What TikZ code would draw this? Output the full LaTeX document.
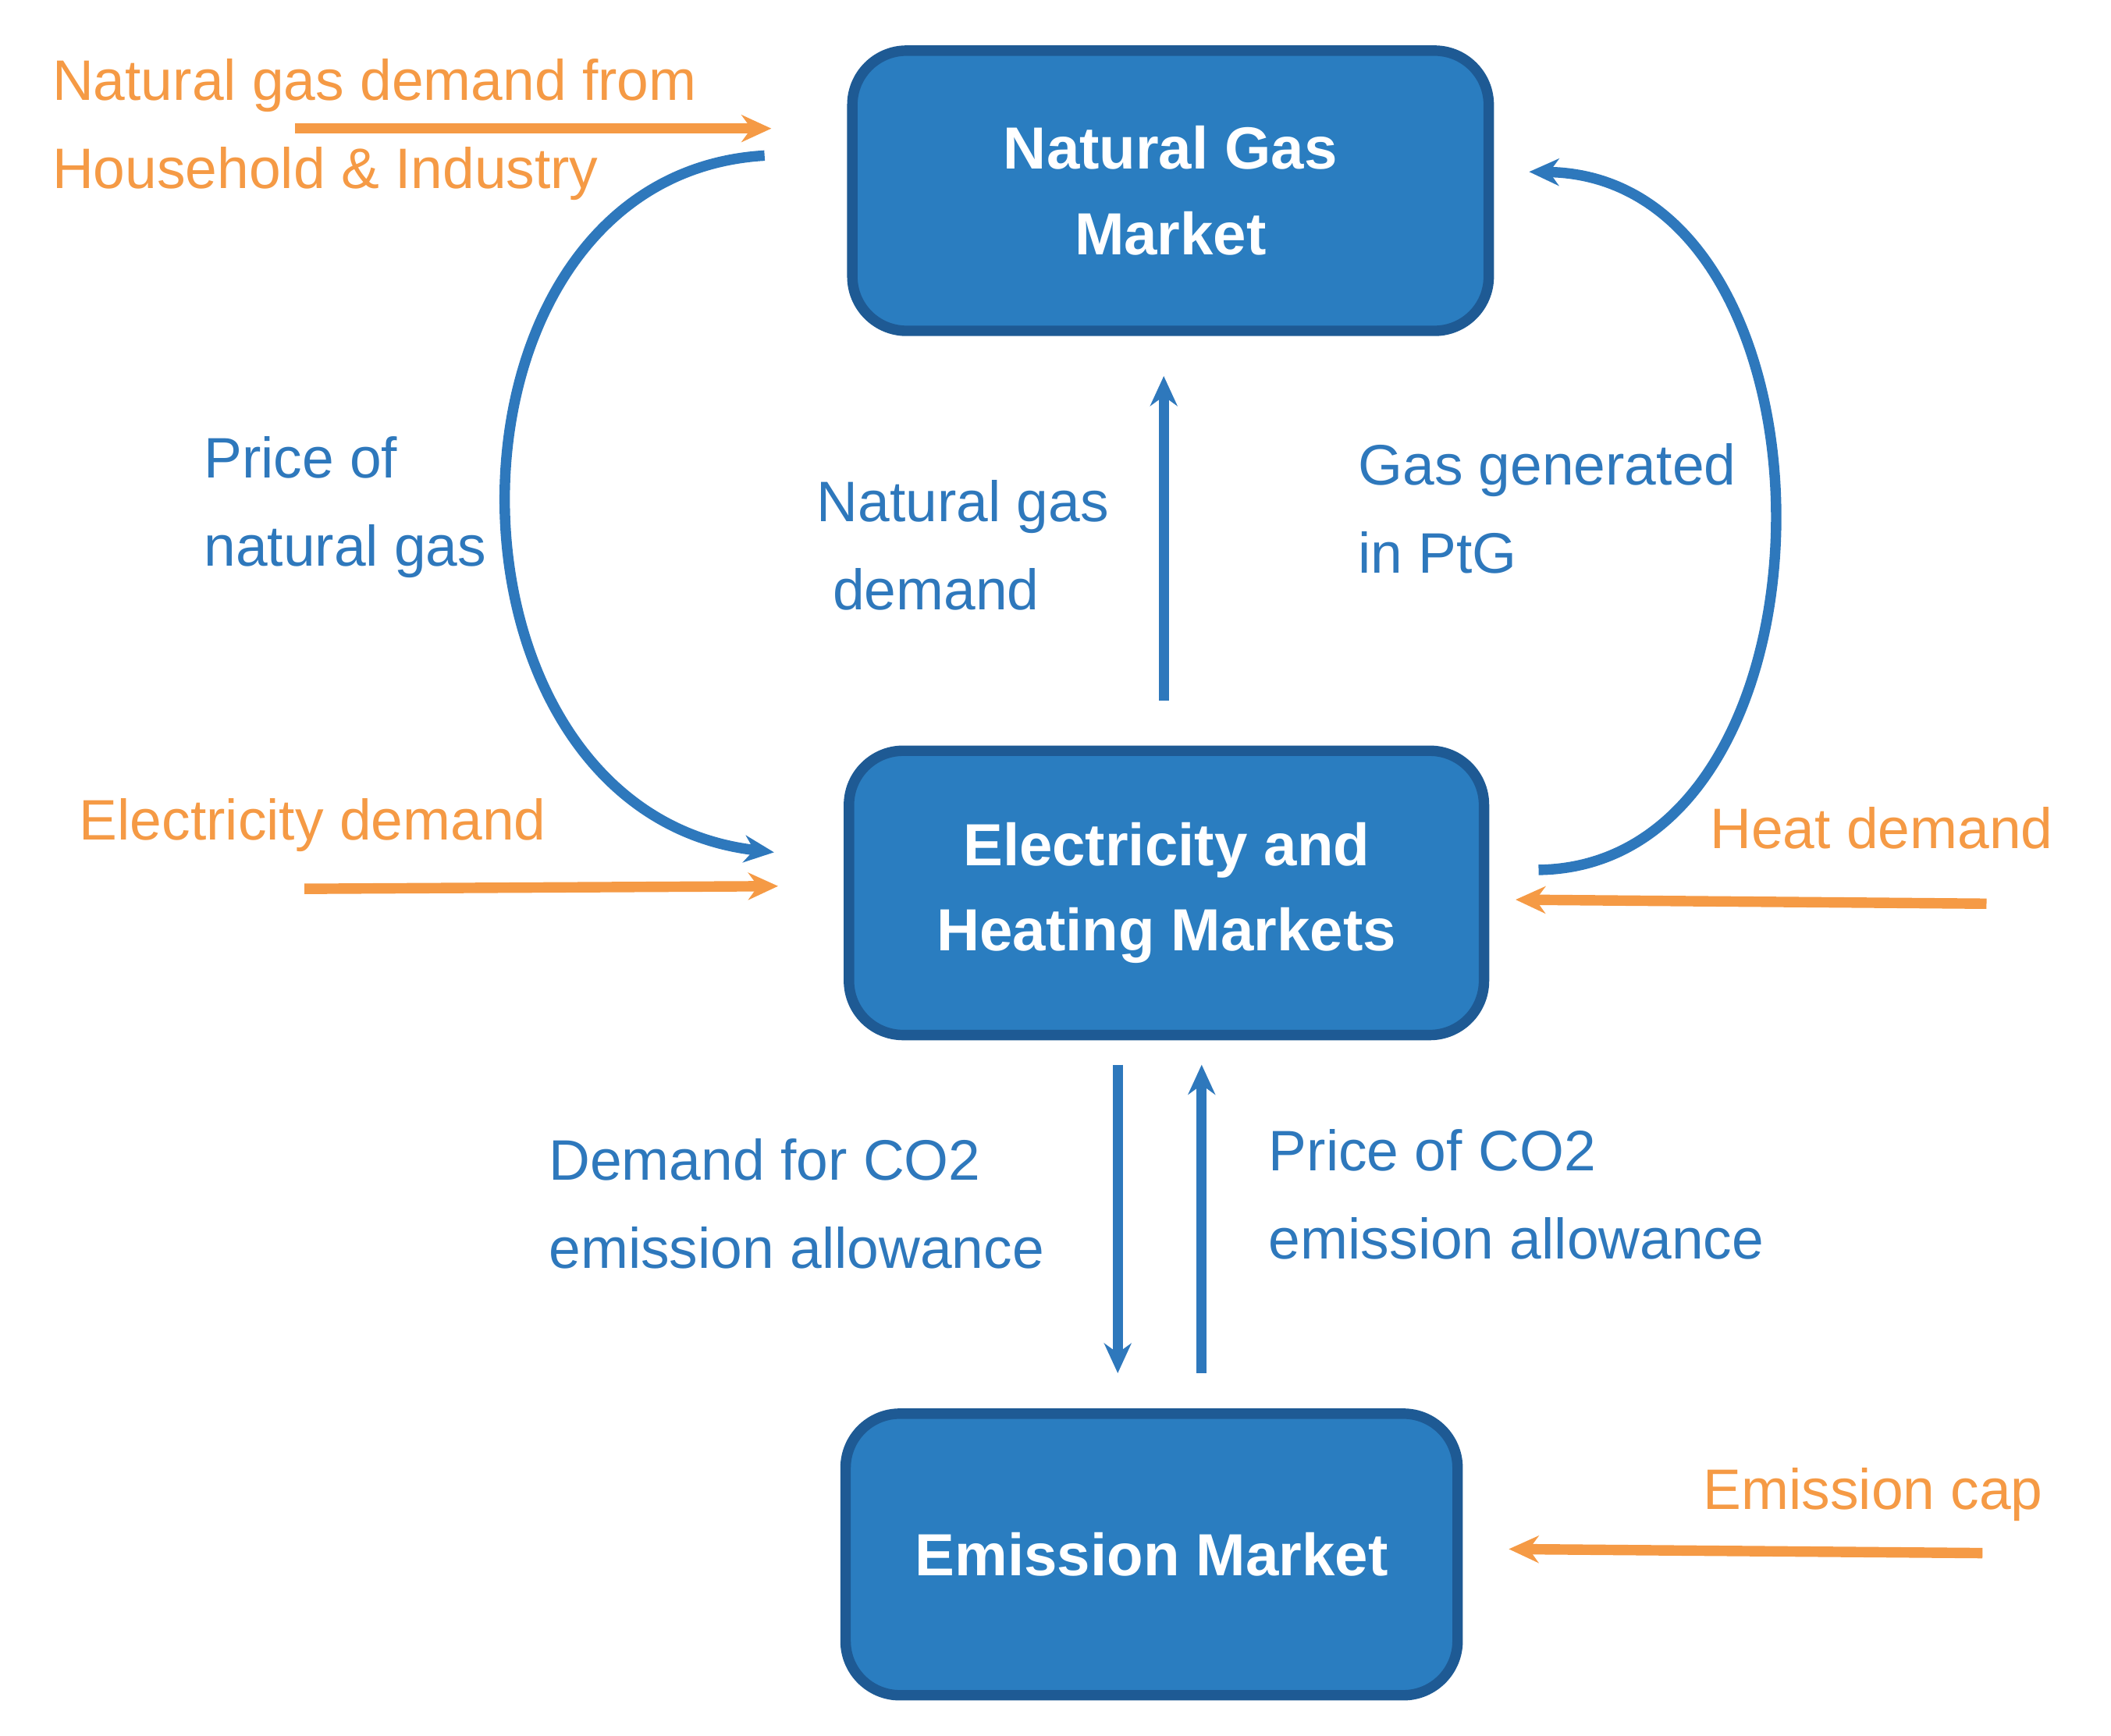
\documentclass[tikz,border=0pt]{standalone}
\usepackage{fontspec}
\setmainfont{Liberation Sans}
\usetikzlibrary{arrows.meta}
\definecolor{boxfill}{HTML}{2A7DC0}
\definecolor{boxline}{HTML}{1E5A94}
\definecolor{lblue}{HTML}{2E78BC}
\definecolor{lorange}{HTML}{F59A45}
\tikzset{
  market/.style={draw=boxline, line width=2.2pt, fill=boxfill, rounded corners=0.4cm, text=white, font=\fontsize{12.5}{18}\selectfont\bfseries, align=center, inner sep=0pt},
  lbl/.style={anchor=west, align=left, inner sep=0pt, font=\fontsize{12}{18.5}\selectfont},
  blbl/.style={lbl, text=lblue},
  olbl/.style={lbl, text=lorange},
  barrow/.style={draw=lblue, line width=2.2pt, -{Stealth[length=0.22cm,width=0.2cm]}},
  oarrow/.style={draw=lorange, line width=2.2pt, -{Stealth[length=0.22cm,width=0.2cm]}}
}
\begin{document}
\begin{tikzpicture}[x=0.01cm,y=-0.01cm]
\useasboundingbox (0,0) rectangle (1560,1283);
\node[market, minimum width=4.7cm, minimum height=2.07cm] (ng) at (865,141) {Natural Gas\\Market};
\node[market, minimum width=4.69cm, minimum height=2.1cm] (el) at (862,660) {Electricity and\\Heating Markets};
\node[market, minimum width=4.52cm, minimum height=2.08cm] (em) at (851,1149) {Emission Market};

\coordinate (a1) at (218,95); \coordinate (a2) at (570,95);
\coordinate (b1) at (225,657); \coordinate (b2) at (575,655);
\coordinate (c1) at (1468,668); \coordinate (c2) at (1120,665);
\coordinate (d1) at (1465,1148); \coordinate (d2) at (1115,1145);
\draw[oarrow] (a1) -- (a2);
\draw[oarrow] (b1) -- (b2);
\draw[oarrow] (c1) -- (c2);
\draw[oarrow] (d1) -- (d2);

\coordinate (l1) at (565,115); \coordinate (l2) at (572,630);
\coordinate (r1) at (1137,643); \coordinate (r2) at (1130,127);
\draw[barrow] (l1) .. controls (310,130) and (310,600) .. (l2);
\draw[barrow] (r1) .. controls (1370,640) and (1370,130) .. (r2);

\coordinate (v1) at (860,518); \coordinate (v2) at (860,278);
\draw[barrow] (v1) -- (v2);
\coordinate (w1) at (826,787); \coordinate (w2) at (826,1015);
\draw[barrow] (w1) -- (w2);
\coordinate (u1) at (888,1015); \coordinate (u2) at (888,787);
\draw[barrow] (u1) -- (u2);

\node[olbl] (t1) at (38,96) {Natural gas demand from\\Household \& Industry};
\node[blbl] (t2) at (150,375) {Price of\\natural gas};
\node[blbl] (t3) at (603,403) {Natural gas\\\ demand};
\node[blbl] (t4) at (1003,376) {Gas generated\\in PtG};
\node[olbl] (t5) at (58,610) {Electricity demand};
\node[olbl] (t6) at (1263,612) {Heat demand};
\node[blbl] (t7) at (405,890) {Demand for CO2\\emission allowance};
\node[blbl] (t8) at (937,883) {Price of CO2\\emission allowance};
\node[olbl] (t9) at (1258,1105) {Emission cap};
\end{tikzpicture}
\end{document}
